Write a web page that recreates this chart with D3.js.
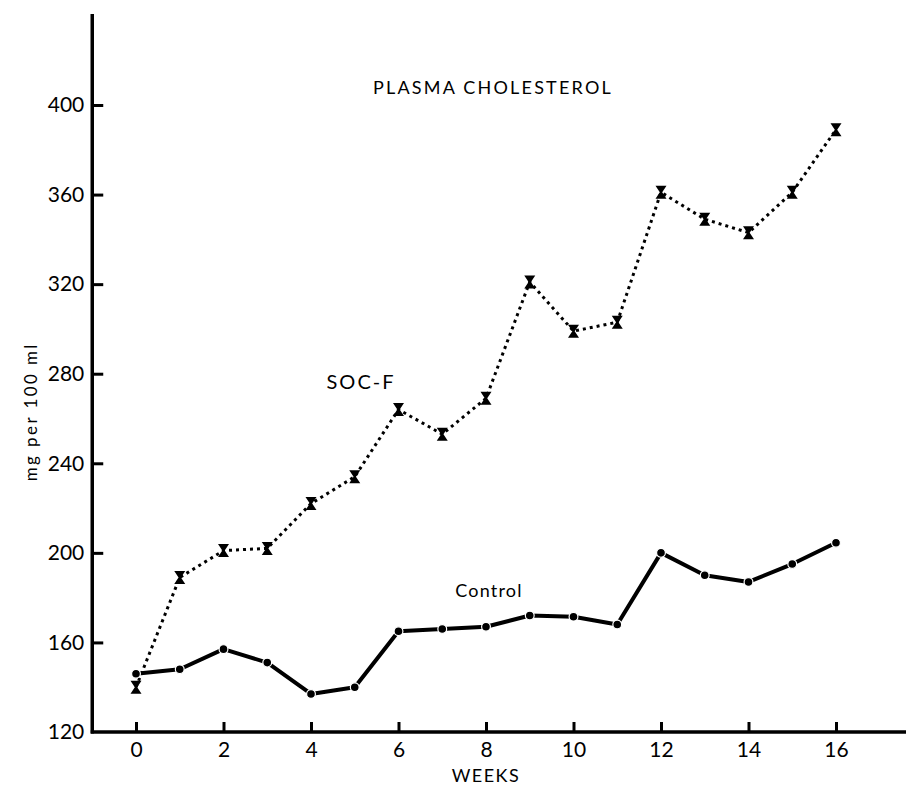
<!DOCTYPE html>
<html lang="en">
<head>
  <meta charset="UTF-8">
  <title>Plasma Cholesterol</title>
  <style>
    body { margin: 0; background: #fff; }
    text { font-family: Lato, "DejaVu Sans", sans-serif; fill: #000; }
  </style>
</head>
<body>
<div id="chart"></div>
<script src="https://d3js.org/d3.v7.min.js"></script>
<script>

// values
const weeks = [0, 1, 2, 3, 4, 5, 6, 7, 8, 9, 10, 11, 12, 13, 14, 15, 16];
const control = [146, 148, 157, 151, 137, 140, 165, 166, 167, 172, 171.5, 168, 200, 190, 187, 195, 204.5];
const socF = [140, 189, 201, 202, 222, 234, 264, 253, 269, 321, 299, 303, 361, 349, 343, 361, 389];
const xTicks = [0, 2, 4, 6, 8, 10, 12, 14, 16];
const yTicks = [120, 160, 200, 240, 280, 320, 360, 400];

const W = 917, H = 786;

const svg = d3.select("#chart").append("svg")
  .attr("width", W)
  .attr("height", H);

const x = d3.scaleLinear().domain([0, 16]).range([136, 836]);
const y = d3.scaleLinear().domain([120, 400]).range([732, 105]);

// axis lines (drawn a bit past the tick range like the original)
svg.append("line")
  .attr("x1", x(-1)).attr("x2", x(-1))
  .attr("y1", y(120) + 1.5).attr("y2", 14)
  .attr("stroke", "#000").attr("stroke-width", 3.5);

svg.append("line")
  .attr("x1", x(-1) - 1.5).attr("x2", x(17.6))
  .attr("y1", y(120)).attr("y2", y(120))
  .attr("stroke", "#000").attr("stroke-width", 3.5);

// y axis, ticks pointing inward
const yAxis = svg.append("g")
  .attr("transform", `translate(${x(-1)},0)`)
  .call(d3.axisLeft(y).tickValues(yTicks).tickSizeInner(-11).tickSizeOuter(0).tickPadding(8));
yAxis.select(".domain").remove();
yAxis.selectAll(".tick line").attr("stroke", "#000").attr("stroke-width", 3);
yAxis.selectAll(".tick line").filter(d => d === 120).remove();
yAxis.selectAll(".tick text")
  .style("font-family", "Lato, sans-serif")
  .style("font-size", "21px")
  .attr("fill", "#000");

// x axis, ticks pointing up
const xAxis = svg.append("g")
  .attr("transform", `translate(0,${y(120)})`)
  .call(d3.axisBottom(x).tickValues(xTicks).tickSizeInner(-10).tickSizeOuter(0).tickPadding(10));
xAxis.select(".domain").remove();
xAxis.selectAll(".tick line").attr("stroke", "#000").attr("stroke-width", 3);
xAxis.selectAll(".tick text")
  .style("font-family", "Lato, sans-serif")
  .style("font-size", "21px")
  .attr("fill", "#000");

// axis titles
svg.append("text")
  .attr("x", (x(0) + x(16)) / 2)
  .attr("y", 782)
  .attr("text-anchor", "middle")
  .style("font-size", "18px")
  .style("letter-spacing", "1.5px")
  .text("WEEKS");

svg.append("text")
  .attr("transform", `translate(37,${y(263)}) rotate(-90)`)
  .attr("text-anchor", "middle")
  .style("font-size", "17px")
  .style("letter-spacing", "2.4px")
  .text("mg per 100 ml");

svg.append("text")
  .attr("x", 493)
  .attr("y", 94)
  .attr("text-anchor", "middle")
  .style("font-size", "18px")
  .style("letter-spacing", "2.2px")
  .text("PLASMA CHOLESTEROL");

// SOC-F series: dotted line with hourglass markers
const socData = weeks.map((w, i) => ({ w: w, v: socF[i] }));
const ctlData = weeks.map((w, i) => ({ w: w, v: control[i] }));

const line = d3.line().x(d => x(d.w)).y(d => y(d.v));

svg.append("path")
  .datum(socData)
  .attr("d", line)
  .attr("fill", "none")
  .attr("stroke", "#000")
  .attr("stroke-width", 3)
  .attr("stroke-dasharray", "3,4");

svg.selectAll(".soc")
  .data(socData)
  .enter().append("path")
  .attr("class", "soc")
  .attr("transform", d => `translate(${x(d.w)},${y(d.v)})`)
  .attr("d", "M-5.5,-6.5H5.5L1.2,0L5.5,6.5H-5.5L-1.2,0Z")
  .attr("fill", "#000");

// Control series: solid line with dots
svg.append("path")
  .datum(ctlData)
  .attr("d", line)
  .attr("fill", "none")
  .attr("stroke", "#000")
  .attr("stroke-width", 4)
  .attr("stroke-linejoin", "round");

svg.selectAll(".ctl")
  .data(ctlData)
  .enter().append("circle")
  .attr("class", "ctl")
  .attr("cx", d => x(d.w))
  .attr("cy", d => y(d.v))
  .attr("r", 4.4)
  .attr("fill", "#000")
  .attr("stroke", "#fff")
  .attr("stroke-width", 1.2);

// series labels
svg.append("text")
  .attr("x", 361).attr("y", 389)
  .attr("text-anchor", "middle")
  .style("font-size", "20px")
  .style("letter-spacing", "2px")
  .text("SOC-F");

svg.append("text")
  .attr("x", 489).attr("y", 597)
  .attr("text-anchor", "middle")
  .style("font-size", "18px")
  .style("letter-spacing", "1.2px")
  .text("Control");

</script>
</body>
</html>
